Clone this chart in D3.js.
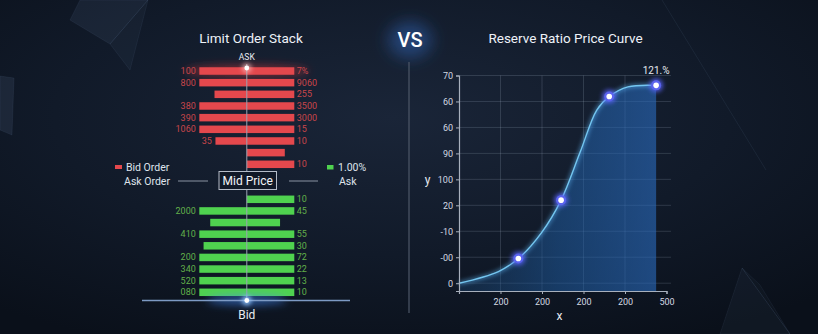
<!DOCTYPE html>
<html>
<head>
<meta charset="utf-8">
<script src="https://cdn.jsdelivr.net/npm/d3@7/dist/d3.min.js"></script>
<style>
  html, body { margin: 0; padding: 0; background: #0d1420; }
  svg { display: block; font-family: Roboto, "Open Sans", sans-serif; }
</style>
</head>
<body>
<svg id="chart" width="818" height="334"></svg>
<script>
// ---- Limit order stack data (depth as % of full bar width on each side of the mid line)
const askLeftLabels  = ["100", "800", "", "380", "390", "1060", "35", "", ""];
const askRightLabels = ["7%", "9060", "255", "3500", "3000", "15", "10", "", "10"];
const askLeft  = [100, 100, 68, 100, 100, 100, 66, 0, 0];
const askRight = [100, 100, 100, 100, 100, 100, 100, 80, 100];

const bidLeftLabels  = ["", "2000", "", "410", "", "200", "340", "520", "080"];
const bidRightLabels = ["10", "45", "", "55", "30", "72", "22", "13", "10"];
const bidLeft  = [0, 100, 77, 100, 91, 100, 100, 100, 100];
const bidRight = [100, 100, 70, 100, 100, 100, 100, 100, 100];

// ---- Reserve ratio curve data
const curveX = [0, 0.95, 1.43, 1.99, 2.46, 2.92, 3.32, 3.62, 4.07, 4.75];
const curveY = [0, 0.45, 0.95, 1.95, 3.20, 5.05, 6.67, 7.19, 7.56, 7.62];
const markerX = [1.43, 2.46, 3.62, 4.75];
const markerY = [0.95, 3.20, 7.19, 7.62];
const yTickLabels = ["0", "-00", "-10", "20", "100", "90", "60", "60", "70"];
const xTickLabels = ["200", "200", "200", "200", "500"];
const peakLabel = "121.%";

const svg = d3.select("#chart");
const W = 818, H = 334;
const defs = svg.append("defs");

// ---------- background ----------
const bg = defs.append("radialGradient").attr("id", "bg")
  .attr("cx", "0.48").attr("cy", "0.35").attr("r", "0.75");
bg.append("stop").attr("offset", "0").attr("stop-color", "#1a2538");
bg.append("stop").attr("offset", "0.55").attr("stop-color", "#111a29");
bg.append("stop").attr("offset", "1").attr("stop-color", "#0a101a");
svg.append("rect").attr("width", W).attr("height", H).attr("fill", "url(#bg)");

// faint crystal shapes in the corners
const shapes = [
  { pts: [[80,0],[148,0],[110,44],[70,20]], o: 0.10 },
  { pts: [[110,44],[148,0],[130,70]], o: 0.06 },
  { pts: [[0,76],[14,78],[12,135],[0,130]], o: 0.12 },
  { pts: [[720,334],[742,268],[790,334]], o: 0.06 },
  { pts: [[742,268],[760,285],[790,334]], o: 0.04 }
];
svg.append("g").selectAll("polygon").data(shapes).join("polygon")
  .attr("points", d => d.pts.map(p => p.join(",")).join(" "))
  .attr("fill", d => `rgba(120,150,190,${d.o})`)
  .attr("stroke", "rgba(150,180,220,0.12)").attr("stroke-width", 0.6);
svg.append("line").attr("x1", 662).attr("y1", 0).attr("x2", 766).attr("y2", 170)
  .attr("stroke", "rgba(150,180,220,0.12)").attr("stroke-width", 0.7);

// glow filters
const glow = (id, dev) => {
  const f = defs.append("filter").attr("id", id)
    .attr("x", "-100%").attr("y", "-100%").attr("width", "300%").attr("height", "300%");
  f.append("feGaussianBlur").attr("stdDeviation", dev);
};
glow("blur2", 2);
glow("blur4", 4);
glow("blur8", 8);

// ---------- left panel: limit order stack ----------
const depth = d3.scaleLinear().domain([-100, 100]).range([199.3, 294.3]);
const midX = depth(0);
const askRowY = d3.scalePoint().domain(d3.range(askLeft.length)).range([71, 164.3]);
const bidRowY = d3.scalePoint().domain(d3.range(bidLeft.length)).range([199.3, 292.3]);
const barH = 7.5;

const left = svg.append("g");

left.append("text").attr("x", 251).attr("y", 38).attr("text-anchor", "middle")
  .attr("dominant-baseline", "central").attr("fill", "#eef2f8")
  .attr("font-size", 13.5).text("Limit Order Stack");

// red halo behind the top ask row
left.append("ellipse").attr("cx", midX).attr("cy", askRowY(0)).attr("rx", 62).attr("ry", 6)
  .attr("fill", "rgba(230,60,60,0.45)").attr("filter", "url(#blur4)");

function drawStack(g, rowY, lefts, rights, lLabels, rLabels, fill, textFill) {
  const idx = d3.range(lefts.length);
  g.selectAll(null).data(idx).join("rect")
    .attr("x", i => depth(-lefts[i]))
    .attr("y", i => rowY(i) - barH / 2)
    .attr("width", i => depth(rights[i]) - depth(-lefts[i]))
    .attr("height", barH)
    .attr("fill", fill);
  g.selectAll(null).data(idx.filter(i => lLabels[i])).join("text")
    .attr("x", i => depth(-lefts[i]) - 3.5).attr("y", i => rowY(i))
    .attr("text-anchor", "end").attr("dominant-baseline", "central")
    .attr("font-size", 9).attr("fill", textFill).text(i => lLabels[i]);
  g.selectAll(null).data(idx.filter(i => rLabels[i])).join("text")
    .attr("x", i => depth(rights[i]) + 2.5).attr("y", i => rowY(i))
    .attr("dominant-baseline", "central")
    .attr("font-size", 9).attr("fill", textFill).text(i => rLabels[i]);
}
drawStack(left.append("g"), askRowY, askLeft, askRight, askLeftLabels, askRightLabels, "#e4484d", "#c9464b");
drawStack(left.append("g"), bidRowY, bidLeft, bidRight, bidLeftLabels, bidRightLabels, "#4fd24f", "#62b04a");

// mid line
left.append("line").attr("x1", midX).attr("x2", midX).attr("y1", 64).attr("y2", 300)
  .attr("stroke", "#9aa3b2").attr("stroke-width", 1);

// base line with blue glow
left.append("ellipse").attr("cx", midX).attr("cy", 300).attr("rx", 40).attr("ry", 5)
  .attr("fill", "rgba(70,140,255,0.55)").attr("filter", "url(#blur4)");
left.append("line").attr("x1", 142).attr("x2", 350).attr("y1", 300.5).attr("y2", 300.5)
  .attr("stroke", "#7d9ac4").attr("stroke-width", 1.3);

// end dots
[[68], [300.5]].forEach(([cy]) => {
  left.append("circle").attr("cx", midX).attr("cy", cy).attr("r", 5)
    .attr("fill", cy < 100 ? "rgba(255,200,200,0.6)" : "rgba(150,200,255,0.8)").attr("filter", "url(#blur2)");
  left.append("circle").attr("cx", midX).attr("cy", cy).attr("r", 2.4).attr("fill", "#ffffff");
});

left.append("text").attr("x", midX).attr("y", 57).attr("text-anchor", "middle")
  .attr("dominant-baseline", "central").attr("font-size", 8.5).attr("fill", "#e8ecf2").text("ASK");
left.append("text").attr("x", midX).attr("y", 314.5).attr("text-anchor", "middle")
  .attr("dominant-baseline", "central").attr("font-size", 12).attr("fill", "#e8ecf2").text("Bid");

// legend / mid price row
const legendY1 = 167, legendY2 = 181;
left.append("rect").attr("x", 115).attr("y", legendY1 - 2).attr("width", 7).attr("height", 4).attr("fill", "#e4484d");
left.append("text").attr("x", 126).attr("y", legendY1).attr("dominant-baseline", "central")
  .attr("font-size", 10.5).attr("fill", "#dfe4ec").text("Bid Order");
left.append("text").attr("x", 170).attr("y", legendY2).attr("text-anchor", "end").attr("dominant-baseline", "central")
  .attr("font-size", 10.5).attr("fill", "#dfe4ec").text("Ask Order");
left.append("line").attr("x1", 178).attr("x2", 208).attr("y1", legendY2).attr("y2", legendY2)
  .attr("stroke", "#8a93a2").attr("stroke-width", 1);
left.append("line").attr("x1", 289).attr("x2", 318).attr("y1", legendY2).attr("y2", legendY2)
  .attr("stroke", "#8a93a2").attr("stroke-width", 1);
left.append("rect").attr("x", 219).attr("y", 171.5).attr("width", 57.5).attr("height", 18)
  .attr("fill", "#111927").attr("stroke", "#b5bcc8").attr("stroke-width", 1);
left.append("text").attr("x", 247.7).attr("y", 180.8).attr("text-anchor", "middle").attr("dominant-baseline", "central")
  .attr("font-size", 12).attr("fill", "#f2f4f8").text("Mid Price");
left.append("rect").attr("x", 327).attr("y", legendY1 - 2).attr("width", 6.5).attr("height", 4.5).attr("fill", "#4fd24f");
left.append("text").attr("x", 338).attr("y", legendY1).attr("dominant-baseline", "central")
  .attr("font-size", 10.5).attr("fill", "#dfe4ec").text("1.00%");
left.append("text").attr("x", 339).attr("y", legendY2).attr("dominant-baseline", "central")
  .attr("font-size", 10.5).attr("fill", "#dfe4ec").text("Ask");

// ---------- VS divider ----------
svg.append("ellipse").attr("cx", 410).attr("cy", 40).attr("rx", 22).attr("ry", 18)
  .attr("fill", "rgba(50,110,200,0.45)").attr("filter", "url(#blur8)");
svg.append("text").attr("x", 410).attr("y", 40).attr("text-anchor", "middle").attr("dominant-baseline", "central")
  .attr("font-size", 20).attr("font-weight", 500).attr("fill", "#ffffff").text("VS");
svg.append("line").attr("x1", 409).attr("x2", 409).attr("y1", 62).attr("y2", 313)
  .attr("stroke", "#4e5868").attr("stroke-width", 1.2);

// ---------- right panel: reserve ratio price curve ----------
const x = d3.scaleLinear().domain([0, 5]).range([459, 666.5]);
const y = d3.scaleLinear().domain([-0.3, 8]).range([291, 75.5]);
const right = svg.append("g");

right.append("text").attr("x", 565.5).attr("y", 38).attr("text-anchor", "middle")
  .attr("dominant-baseline", "central").attr("fill", "#eef2f8")
  .attr("font-size", 13.5).text("Reserve Ratio Price Curve");

// grid
const yTicks = d3.range(yTickLabels.length);
const xTicks = d3.range(1, xTickLabels.length + 1);
right.append("g").selectAll("line").data(yTicks).join("line")
  .attr("x1", x(0)).attr("x2", 671).attr("y1", d => y(d)).attr("y2", d => y(d))
  .attr("stroke", "rgba(200,215,235,0.16)").attr("stroke-width", 1);
right.append("g").selectAll("line").data(xTicks.slice(0, 4)).join("line")
  .attr("x1", d => x(d)).attr("x2", d => x(d)).attr("y1", y(8)).attr("y2", y(-0.3))
  .attr("stroke", "rgba(200,215,235,0.16)").attr("stroke-width", 1);

// area under the curve
const pts = curveX.map((v, i) => [v, curveY[i]]);
const areaGrad = defs.append("linearGradient").attr("id", "areaGrad")
  .attr("x1", "0").attr("y1", "0").attr("x2", "1").attr("y2", "0");
areaGrad.append("stop").attr("offset", "0").attr("stop-color", "#1d4a7a").attr("stop-opacity", 0.35);
areaGrad.append("stop").attr("offset", "0.5").attr("stop-color", "#2060a8").attr("stop-opacity", 0.5);
areaGrad.append("stop").attr("offset", "1").attr("stop-color", "#2a6cc0").attr("stop-opacity", 0.6);
const curve = d3.curveCatmullRom.alpha(0.5);
right.append("path").datum(pts)
  .attr("d", d3.area().x(d => x(d[0])).y0(y(-0.3)).y1(d => y(d[1])).curve(curve))
  .attr("fill", "url(#areaGrad)");

// curve line with glow
const lineGen = d3.line().x(d => x(d[0])).y(d => y(d[1])).curve(curve);
right.append("path").datum(pts).attr("d", lineGen)
  .attr("fill", "none").attr("stroke", "rgba(100,190,255,0.6)").attr("stroke-width", 3).attr("filter", "url(#blur2)");
right.append("path").datum(pts).attr("d", lineGen)
  .attr("fill", "none").attr("stroke", "#74c6f0").attr("stroke-width", 1.4);

// axes
const yAxis = right.append("g").attr("transform", `translate(${x(0)},0)`)
  .call(d3.axisLeft(y).tickValues(yTicks).tickFormat(i => yTickLabels[i]).tickSize(3).tickPadding(3));
const xAxis = right.append("g").attr("transform", `translate(0,${y(-0.3)})`)
  .call(d3.axisBottom(x).tickValues(xTicks).tickFormat(i => xTickLabels[i - 1]).tickSize(3).tickPadding(5));
[yAxis, xAxis].forEach(a => {
  a.select(".domain").attr("stroke", "#a8b0bd").attr("stroke-width", 1.2);
  a.selectAll(".tick line").attr("stroke", "#a8b0bd");
  a.selectAll(".tick text").attr("fill", "#d4d9e2").attr("font-size", 9)
    .attr("font-family", "Roboto, sans-serif");
});

// markers
const mk = markerX.map((v, i) => [v, markerY[i]]);
right.append("g").selectAll("circle").data(mk).join("circle")
  .attr("cx", d => x(d[0])).attr("cy", d => y(d[1])).attr("r", 7)
  .attr("fill", "rgba(90,100,255,0.75)").attr("filter", "url(#blur2)");
right.append("g").selectAll("circle").data(mk).join("circle")
  .attr("cx", d => x(d[0])).attr("cy", d => y(d[1])).attr("r", 5)
  .attr("fill", "#5b63ee");
right.append("g").selectAll("circle").data(mk).join("circle")
  .attr("cx", d => x(d[0])).attr("cy", d => y(d[1])).attr("r", 2.8)
  .attr("fill", "#ffffff");

const last = mk[mk.length - 1];
right.append("text").attr("x", x(last[0])).attr("y", 70).attr("text-anchor", "middle")
  .attr("dominant-baseline", "central").attr("font-size", 10).attr("fill", "#e6eaf0").text(peakLabel);

right.append("text").attr("x", 427.5).attr("y", 180).attr("text-anchor", "middle").attr("dominant-baseline", "central")
  .attr("font-size", 12).attr("fill", "#e6eaf0").text("y");
right.append("text").attr("x", 559.5).attr("y", 315.5).attr("text-anchor", "middle").attr("dominant-baseline", "central")
  .attr("font-size", 12).attr("fill", "#e6eaf0").text("x");
</script>
</body>
</html>
